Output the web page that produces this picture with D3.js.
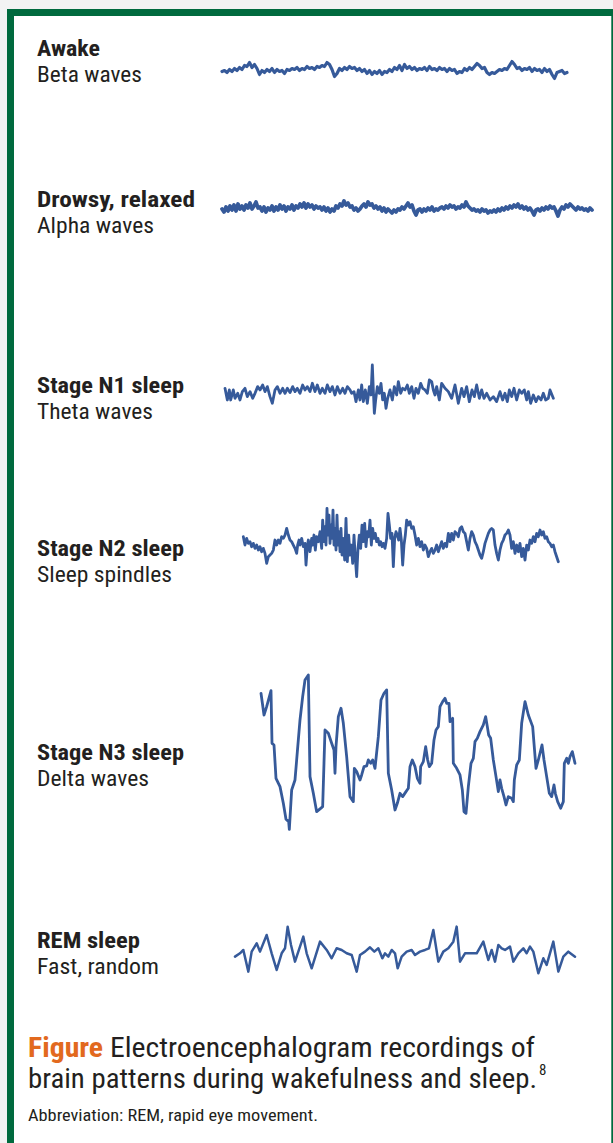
<!DOCTYPE html>
<html>
<head>
<meta charset="utf-8">
<script src="https://cdn.jsdelivr.net/npm/d3@7"></script>
<style>
  html, body { margin: 0; padding: 0; background: #f3f3f3; }
  svg { display: block; }
</style>
</head>
<body>
<svg id="chart" width="613" height="1143"></svg>
<script>
// ---------------- DATA ----------------
const stageNames = ["Awake", "Drowsy, relaxed", "Stage N1 sleep", "Stage N2 sleep", "Stage N3 sleep", "REM sleep"];
const waveNames = ["Beta waves", "Alpha waves", "Theta waves", "Sleep spindles", "Delta waves", "Fast, random"];

// Beta (awake): uniformly sampled amplitude readings
const betaWave = [
  0, 1, -1, 2, 0, 3, 1, 4, 2, 6,
  5, 9, 4, 7, 3, -3, 1, -1, 2, 0,
  3, -1, 2, 0, 1, -2, 2, 1, 3, 2,
  4, 1, 3, 2, 5, 3, 4, 2, 5, 4,
  6, 5, 9, 7, 2, -5, -2, 3, 1, 4,
  2, 5, 3, 4, 1, 3, 0, 2, -2, 1,
  -3, 0, -2, 1, -3, 0, -1, 2, 0, 4,
  2, 6, 1, 7, 3, 5, 2, 4, 1, 3,
  2, 4, 1, 5, 2, 3, 1, 4, 2, 3,
  0, 3, 1, 2, -2, 0, -1, 3, 1, 4,
  2, 5, 8, 6, 3, 4, -1, -3, -1, -2,
  0, 2, 1, 3, 2, 6, 10, 7, 3, 4,
  1, 3, 2, 4, 0, 3, 1, 2, -1, 3,
  0, 2, -3, -7, -1, 0, 1, -2, -1
];

// Alpha (drowsy): uniformly sampled amplitude readings
const alphaWave = [
  0, -3, 2, -2, 3, -1, 4, -2, 5, 0,
  3, -1, 4, 1, 6, 0, 3, 7, 1, 2,
  -2, 2, -3, 1, -1, 3, -2, 2, -1, 4,
  0, 3, -2, 2, 0, 4, -1, 3, 1, 5,
  2, 6, 1, 5, 2, 4, 0, 3, 1, 2,
  -1, 2, -2, 1, -3, 0, -2, 3, 1, 5,
  3, 8, 4, 6, 2, 3, -1, 1, -2, 0,
  3, 5, 2, 7, 4, 5, 1, 3, 0, 2,
  -2, 1, -3, 0, -2, -4, -1, -3, 0, -1,
  2, 0, 3, 6, 2, 4, -2, -6, -1, 0,
  -3, 0, -2, 1, -1, 2, -2, 0, -1, 1,
  2, 0, 3, 1, 4, 2, 3, 0, 2, 1,
  4, 2, 7, 3, 1, -1, 0, -2, -1, -3,
  0, -2, -1, -4, -2, -3, -1, -3, 0, -2,
  1, -1, 2, 0, 3, 1, 4, 2, 5, 1,
  3, 0, 2, -1, 1, -2, -6, -1, 0, -2,
  1, -1, 2, 0, 3, 1, 2, -2, -7, -1,
  2, 0, 4, 2, 5, 3, 1, -1, 2, 0,
  1, -1, 0, -2, 1, -1
];

// Theta (N1): [time, amplitude]
const thetaWave = [
  [45,15],[52,-20],[58,10],[62,-20],[70,10],[75,-15],[83,0],[90,-20],[97,5],[105,15],
  [112,-10],[120,5],[128,-15],[135,0],[143,20],[150,10],[158,25],[165,5],[172,20],[180,-10],
  [187,-30],[195,10],[202,20],[210,0],[218,15],[225,0],[232,15],[240,2],[248,20],[255,5],
  [262,15],[270,0],[278,25],[285,10],[292,20],[300,5],[307,30],[315,5],[322,25],[330,0],
  [337,15],[345,0],[352,25],[360,5],[367,20],[375,-5],[382,20],[390,0],[398,15],[405,0],
  [412,20],[420,10],[425,0],[432,5],[438,-25],[445,10],[450,-20],[455,25],[460,-25],[466,10],
  [472,-30],[478,20],[483,-5],[487,85],[490,10],[493,-60],[497,-20],[502,20],[508,0],[513,30],
  [518,-20],[523,0],[528,-45],[533,-15],[540,10],[547,-20],[553,20],[560,-5],[565,35],[572,0],
  [578,15],[585,10],[592,25],[598,0],[605,20],[612,-15],[618,15],[625,0],[632,30],[638,15],
  [645,10],[652,0],[658,40],[665,35],[670,10],[675,-5],[680,20],[688,-20],[695,30],[705,15],
  [715,5],[725,-15],[735,25],[745,-30],[755,15],[762,-10],[770,20],[778,-25],[786,10],[793,-10],
  [800,25],[808,-15],[815,10],[822,-15],[830,0],[840,-20],[850,-10],[860,-25],[870,5],[878,-20],
  [885,0],[892,-25],[898,10],[905,-10],[912,15],[920,-20],[928,10],[935,0],[943,10],[950,-20],
  [955,5],[962,-30],[970,-5],[978,-25],[985,-10],[993,-20],[1000,0],[1007,-20],[1015,-15],[1020,10],
  [1030,-15]
];

// Sleep spindles (N2): [time, amplitude]
const spindleWave = [
  [40,15],[45,-10],[50,10],[55,-5],[60,0],[65,-15],[70,-5],[75,-20],[80,-10],[85,-25],
  [90,-15],[95,-30],[100,-20],[105,-35],[110,-65],[115,-45],[120,-40],[125,-35],[130,-25],[135,5],
  [140,-10],[145,5],[150,-5],[155,15],[160,10],[165,20],[170,40],[175,20],[180,5],[185,0],
  [190,-10],[195,-20],[200,-35],[203,-10],[207,5],[210,-10],[215,10],[220,-15],[225,-5],[228,-70],
  [232,-15],[235,5],[240,-30],[245,10],[248,-10],[252,20],[256,-25],[260,15],[265,0],[270,30],
  [275,-20],[278,65],[282,0],[285,45],[288,-10],[291,100],[294,20],[297,80],[300,-5],[303,50],
  [306,10],[309,95],[312,-10],[315,40],[318,-25],[321,80],[324,-10],[327,30],[330,-30],[333,40],
  [336,-40],[340,10],[344,-55],[348,70],[352,-60],[356,20],[360,-40],[364,-10],[368,-65],[372,20],
  [376,-50],[380,-105],[384,-20],[388,20],[392,-20],[396,50],[400,0],[404,55],[408,-15],[412,30],
  [416,15],[420,65],[424,-10],[428,40],[432,10],[436,25],[440,0],[444,10],[448,-10],[452,0],
  [456,-15],[460,-5],[465,-20],[470,10],[474,85],[478,50],[482,10],[486,25],[490,-75],[494,10],
  [498,30],[502,20],[506,5],[510,40],[514,5],[518,-70],[522,-10],[526,20],[530,65],[535,50],
  [540,60],[545,40],[550,45],[555,20],[560,-10],[565,10],[570,-15],[575,0],[580,-25],[585,-10],
  [590,-20],[595,-45],[600,-30],[605,-20],[610,-35],[615,-25],[620,-10],[625,-30],[630,-15],[635,0],
  [640,-20],[645,-5],[650,-15],[655,25],[660,0],[665,25],[670,5],[675,30],[680,25],[685,15],
  [690,40],[695,45],[700,30],[705,25],[710,0],[715,-25],[720,10],[725,30],[730,20],[735,0],
  [740,-10],[745,-25],[750,-40],[755,-50],[760,-30],[765,-5],[770,10],[775,25],[780,35],[785,40],
  [790,35],[795,-10],[800,-35],[805,-55],[810,-25],[815,-5],[820,5],[825,20],[830,25],[835,35],
  [840,20],[845,-20],[850,0],[855,-35],[860,-10],[865,-30],[870,-5],[875,-45],[880,-20],[885,-55],
  [890,-10],[895,-25],[900,5],[905,-5],[910,15],[915,0],[920,25],[925,15],[930,35],[935,20],
  [940,30],[945,10],[950,15],[955,0],[960,-5],[965,-15],[970,-10],[975,-30],[980,-45],[985,-60]
];

// Delta (N3): [time, amplitude]
const deltaWave = [
  [33,180],[42,115],[50,140],[63,188],[66,30],[72,25],[78,-75],[90,-100],[100,-150],[108,-198],
  [116,-205],[118,-228],[125,-110],[135,-80],[140,-20],[150,100],[158,170],[165,220],[175,235],[180,-70],
  [190,-120],[200,-175],[212,-165],[218,-160],[225,70],[235,60],[245,30],[252,10],[255,-60],[258,20],
  [265,110],[273,135],[280,90],[290,-10],[300,-130],[310,-145],[313,-45],[320,-55],[330,-80],[335,-65],
  [342,-40],[350,-38],[355,-20],[362,-30],[368,-20],[375,-45],[385,50],[393,160],[402,180],[410,190],
  [415,-60],[425,-110],[435,-170],[442,-150],[450,-120],[458,-130],[468,-115],[475,-105],[480,-40],[487,-20],
  [495,-40],[502,-75],[510,-90],[512,-40],[520,-25],[527,20],[533,-20],[538,-40],[545,-30],[552,40],
  [558,70],[565,80],[570,140],[578,155],[585,165],[590,150],[597,150],[600,95],[608,105],[610,-30],
  [620,-45],[630,-65],[637,-110],[642,-175],[648,-180],[655,-100],[663,-30],[670,-15],[675,35],[682,45],
  [690,65],[700,85],[707,110],[712,80],[716,55],[722,45],[730,-20],[738,-70],[745,-115],[750,-80],
  [755,-105],[762,-130],[768,-155],[775,-130],[785,-135],[790,-145],[793,-80],[800,-35],[808,-20],[815,90],
  [825,155],[835,115],[848,80],[858,-45],[865,-20],[876,25],[882,-20],[890,-70],[898,-120],[905,-130],
  [912,-95],[916,-120],[923,-145],[932,-165],[940,-145],[943,-30],[950,-15],[955,-30],[960,-10],[967,5],
  [975,-30]
];

// REM: [time, amplitude]
const remWave = [
  [30,-10],[45,0],[55,10],[70,-55],[80,5],[95,30],[105,5],[125,55],[140,0],[155,-50],
  [170,0],[180,15],[188,80],[198,25],[210,-25],[235,50],[245,0],[260,-45],[285,35],[305,10],
  [320,-15],[335,15],[350,10],[365,0],[380,-5],[395,-55],[405,-5],[420,5],[435,18],[448,5],
  [460,15],[472,-15],[480,0],[490,-10],[500,10],[510,0],[518,-45],[530,-10],[545,5],[560,10],
  [570,-5],[585,5],[600,10],[612,15],[625,70],[640,-25],[655,5],[670,15],[685,35],[695,80],
  [705,-25],[720,0],[740,0],[755,0],[775,35],[790,-20],[800,10],[810,-25],[820,25],[830,15],
  [840,10],[855,20],[865,-25],[880,0],[895,15],[905,0],[915,20],[925,5],[940,-60],[955,-15],
  [965,-35],[985,35],[1000,-55],[1015,-10],[1030,5],[1050,-10]
];

const captionLead = "Figure";
const captionText1 = " Electroencephalogram recordings of";
const captionText2 = "brain patterns during wakefulness and sleep.";
const captionRef = "8";
const footnote = "Abbreviation: REM, rapid eye movement.";

// ---------------- DRAWING ----------------
const W = 613, H = 1143;
const svg = d3.select("#chart");
const GREEN = "#006a3e";
const BLUE = "#365a9a";
const INK = "#231f20";
const FONT = "'Liberation Sans Narrow','Roboto Condensed','DejaVu Sans Condensed','Liberation Sans',Arial,sans-serif";

svg.append("rect").attr("x", 0).attr("y", 0).attr("width", W).attr("height", H).attr("fill", "#f3f3f3");
svg.append("rect").attr("x", 7).attr("y", 9).attr("width", W - 7).attr("height", H - 9).attr("fill", "#ffffff");
svg.append("rect").attr("x", 7).attr("y", 9).attr("width", 7).attr("height", H - 9).attr("fill", GREEN);
svg.append("rect").attr("x", 7).attr("y", 9).attr("width", W - 7).attr("height", 7).attr("fill", GREEN);
svg.append("rect").attr("x", 611.3).attr("y", 9).attr("width", 1.7).attr("height", H - 9).attr("fill", GREEN);

// labels
const labelLayout = [
  { y1: 56, y2: 82, w1: 63, w2: 105 },
  { y1: 207, y2: 233, w1: 158, w2: 117 },
  { y1: 393, y2: 419, w1: 147, w2: 116 },
  { y1: 556, y2: 582, w1: 147, w2: 135 },
  { y1: 760, y2: 786, w1: 147, w2: 112 },
  { y1: 948, y2: 974, w1: 103, w2: 122 }
];
stageNames.forEach((name, i) => {
  const L = labelLayout[i];
  svg.append("text").attr("x", 37).attr("y", L.y1)
    .attr("font-family", FONT).attr("font-size", 22.5).attr("font-weight", "bold")
    .attr("fill", INK).attr("textLength", L.w1).attr("lengthAdjust", "spacingAndGlyphs")
    .text(name);
  svg.append("text").attr("x", 37).attr("y", L.y2)
    .attr("font-family", FONT).attr("font-size", 22.5)
    .attr("fill", INK).attr("textLength", L.w2).attr("lengthAdjust", "spacingAndGlyphs")
    .text(waveNames[i]);
});

// waves
function drawWave(data, tDomain, xRange, vDomain, yRange, width) {
  const x = d3.scaleLinear().domain(tDomain).range(xRange);
  const y = d3.scaleLinear().domain(vDomain).range(yRange);
  const line = d3.line().x(d => x(d[0])).y(d => y(d[1])).curve(d3.curveLinear);
  svg.append("path").datum(data)
    .attr("d", line)
    .attr("fill", "none")
    .attr("stroke", BLUE)
    .attr("stroke-width", width)
    .attr("stroke-linejoin", "round")
    .attr("stroke-linecap", "round");
}

drawWave(betaWave.map((v, i) => [i, v]), [0, betaWave.length - 1], [222, 567], [-10, 10], [81.5, 61.5], 3.2);
drawWave(alphaWave.map((v, i) => [i, v]), [0, alphaWave.length - 1], [222, 592], [-10, 10], [219, 199], 3.8);
drawWave(thetaWave, [0, 1080], [210, 570], [-150, 150], [443.3, 343.3], 2.8);
drawWave(spindleWave, [0, 1020], [230, 570], [-150, 150], [591.7, 491.7], 2.8);
drawWave(deltaWave, [0, 1020], [250, 590], [-300, 300], [853.3, 653.3], 2.8);
drawWave(remWave, [0, 1080], [225, 585], [-150, 150], [1003.3, 903.3], 2.5);

// caption
const cap1 = svg.append("text").attr("x", 28).attr("y", 1057)
  .attr("font-family", FONT).attr("font-size", 28.5).attr("fill", INK)
  .attr("textLength", 507).attr("lengthAdjust", "spacingAndGlyphs");
cap1.append("tspan").attr("font-weight", "bold").attr("fill", "#e2691e").text(captionLead);
cap1.append("tspan").text(captionText1);

svg.append("text").attr("x", 28).attr("y", 1088)
  .attr("font-family", FONT).attr("font-size", 28.5).attr("fill", INK)
  .attr("textLength", 509).attr("lengthAdjust", "spacingAndGlyphs")
  .text(captionText2);
svg.append("text").attr("x", 539).attr("y", 1075)
  .attr("font-family", FONT).attr("font-size", 15).attr("fill", INK)
  .text(captionRef);

svg.append("text").attr("x", 28).attr("y", 1121)
  .attr("font-family", FONT).attr("font-size", 17).attr("fill", INK)
  .attr("textLength", 290).attr("lengthAdjust", "spacingAndGlyphs")
  .text(footnote);
</script>
</body>
</html>
